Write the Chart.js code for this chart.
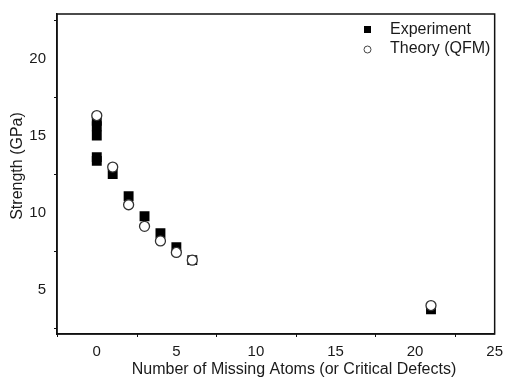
<!DOCTYPE html>
<html>
<head>
<meta charset="utf-8">
<script src="https://cdn.jsdelivr.net/npm/chart.js@4.4.1/dist/chart.umd.min.js"></script>
<style>
  html, body { margin: 0; padding: 0; background: #fff; }
  #wrap { width: 506px; height: 381px; }
</style>
</head>
<body>
<div id="wrap"><canvas id="chart" width="506" height="381"></canvas></div>
<script>
// Data
const expX = [0, 0, 0, 0, 0, 1, 2, 3, 4, 5, 6, 21];
const expY = [15.95, 15.6, 15.0, 13.6, 13.35, 12.5, 11.05, 9.75, 8.65, 7.75, 6.9, 3.7];
const theoryX = [0, 1, 2, 3, 4, 5, 6, 21];
const theoryY = [16.3, 12.95, 10.5, 9.1, 8.15, 7.4, 6.9, 3.95];
const xTicks = [0, 5, 10, 15, 20, 25];
const yTicks = [5, 10, 15, 20];
const xMinor = [-2.5, 2.5, 7.5, 12.5, 17.5, 22.5];
const yMinor = [2.5, 7.5, 12.5, 17.5, 22.5];
const legendLabels = ['Experiment', 'Theory (QFM)'];
const xTitle = 'Number of Missing Atoms (or Critical Defects)';
const yTitle = 'Strength (GPa)';

const FONT = 'Arial, "Liberation Sans", sans-serif';
const TEXT = '#1a1a1a';

const toPoints = (xs, ys) => xs.map((x, i) => ({ x: x, y: ys[i] }));

// Minor ticks, axis titles and in-plot legend
const extras = {
    id: 'extras',
    afterDraw(chart) {
        const ctx = chart.ctx;
        const xs = chart.scales.x, ys = chart.scales.y;
        const area = chart.chartArea;
        ctx.save();
        ctx.strokeStyle = '#111';
        ctx.lineWidth = 1;
        xMinor.forEach(v => {
            const px = Math.round(xs.getPixelForValue(v)) + 0.5;
            ctx.beginPath();
            ctx.moveTo(px, area.bottom);
            ctx.lineTo(px, area.bottom + 3);
            ctx.stroke();
        });
        yMinor.forEach(v => {
            const py = Math.round(ys.getPixelForValue(v)) + 0.5;
            ctx.beginPath();
            ctx.moveTo(area.left, py);
            ctx.lineTo(area.left - 3, py);
            ctx.stroke();
        });

        // axis titles
        ctx.fillStyle = TEXT;
        ctx.font = '16px ' + FONT;
        ctx.textAlign = 'center';
        ctx.textBaseline = 'middle';
        ctx.fillText(xTitle, 294, 370);
        ctx.save();
        ctx.translate(18, 166);
        ctx.rotate(-Math.PI / 2);
        ctx.fillText(yTitle, 0, 0);
        ctx.restore();

        // legend
        ctx.font = '16px ' + FONT;
        ctx.textAlign = 'left';
        ctx.fillStyle = '#000';
        ctx.fillRect(364, 26, 7, 7);
        ctx.beginPath();
        ctx.arc(367.5, 49.5, 3.5, 0, Math.PI * 2);
        ctx.fillStyle = '#fff';
        ctx.fill();
        ctx.strokeStyle = '#444';
        ctx.stroke();
        ctx.fillStyle = TEXT;
        ctx.fillText(legendLabels[0], 390, 30);
        ctx.fillText(legendLabels[1], 390, 49);
        ctx.restore();
    }
};

new Chart(document.getElementById('chart'), {
    type: 'scatter',
    data: {
        datasets: [
            {
                label: legendLabels[0],
                data: toPoints(expX, expY),
                pointStyle: 'rect',
                pointRadius: 7,
                backgroundColor: '#000',
                borderColor: '#000',
                borderWidth: 0,
                order: 1
            },
            {
                label: legendLabels[1],
                data: toPoints(theoryX, theoryY),
                pointStyle: 'circle',
                pointRadius: 5,
                backgroundColor: '#fff',
                borderColor: '#333',
                borderWidth: 1.3,
                order: 0
            }
        ]
    },
    options: {
        responsive: false,
        animation: false,
        layout: { padding: { top: 13, right: 11, left: 26, bottom: 0 } },
        plugins: {
            legend: { display: false },
            tooltip: { enabled: false }
        },
        scales: {
            x: {
                type: 'linear',
                min: -2.5,
                max: 25,
                afterBuildTicks: s => { s.ticks = xTicks.map(v => ({ value: v })); },
                afterFit: s => { s.height = 47; },
                grid: { display: false, drawTicks: true, tickLength: 6, tickColor: '#111' },
                border: { display: true, color: '#111', width: 1.5 },
                ticks: { color: TEXT, font: { family: FONT, size: 15 }, padding: 3, maxRotation: 0 }
            },
            y: {
                type: 'linear',
                min: 2.1,
                max: 22.9,
                afterBuildTicks: s => { s.ticks = yTicks.map(v => ({ value: v })); },
                afterFit: s => { s.width = 31; },
                grid: { display: false, drawTicks: true, tickLength: 6, tickColor: '#111' },
                border: { display: true, color: '#111', width: 1.5 },
                ticks: { color: TEXT, font: { family: FONT, size: 15 }, padding: 5 }
            }
        }
    },
    plugins: [extras, {
        id: 'frame',
        afterDatasetsDraw(chart) {
            const a = chart.chartArea, ctx = chart.ctx;
            ctx.save();
            ctx.strokeStyle = '#111';
            ctx.lineWidth = 1.5;
            ctx.strokeRect(a.left, a.top, a.right - a.left, a.bottom - a.top);
            ctx.restore();
        }
    }]
});
</script>
</body>
</html>
